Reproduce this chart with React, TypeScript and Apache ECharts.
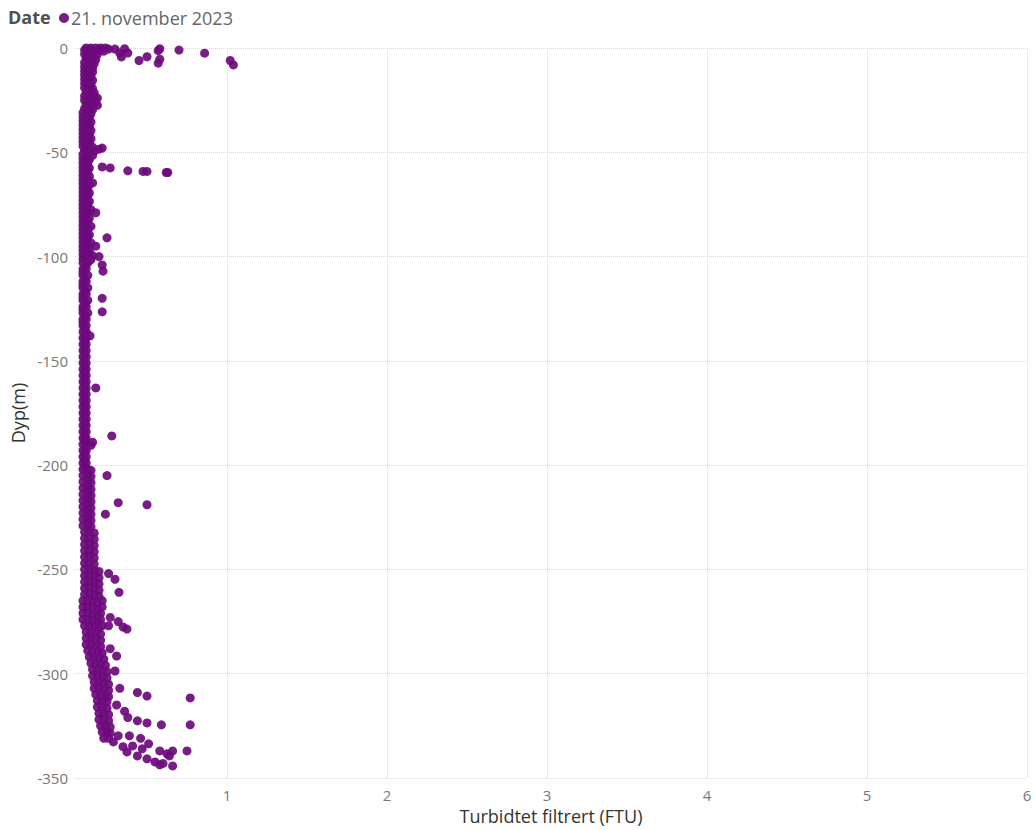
import React, { useEffect, useRef } from "react";
import * as echarts from "echarts";

const seriesName = "21. november 2023";
const xTicks = [1, 2, 3, 4, 5, 6];

// [turbidity FTU, depth m]
const surfaceCore: [number, number][] = [
  [0.12, 0], [0.15, 0], [0.18, 0], [0.21, 0], [0.24, 0], [0.26, -0.5],
  [0.11, -1], [0.14, -1], [0.17, -1.5], [0.2, -1], [0.23, -1.5],
  [0.11, -3], [0.13, -3], [0.16, -3.5], [0.19, -3],
  [0.12, -5], [0.15, -5], [0.18, -5.5],
  [0.11, -7], [0.14, -7], [0.17, -7.5],
  [0.11, -9], [0.13, -9], [0.16, -9.5],
  [0.11, -11], [0.14, -11], [0.16, -11.5],
  [0.11, -13], [0.13, -13], [0.15, -13.5],
  [0.11, -15], [0.14, -15], [0.16, -15.5],
  [0.11, -17], [0.13, -17], [0.15, -17.5],
  [0.11, -19], [0.14, -19], [0.16, -19.5],
  [0.12, -21], [0.15, -21], [0.17, -21.5],
  [0.11, -23], [0.14, -23], [0.17, -23.5], [0.19, -24],
  [0.11, -25], [0.14, -25], [0.18, -26],
  [0.12, -27], [0.15, -27], [0.19, -27.5],
  [0.11, -29], [0.14, -29], [0.16, -29.5],
];

const upperCore: [number, number][] = [
  [0.1, -31], [0.13, -31], [0.15, -31.5],
  [0.1, -33], [0.12, -33], [0.14, -33.5],
  [0.1, -35], [0.13, -35], [0.15, -35.5],
  [0.1, -37], [0.12, -37], [0.14, -37.5],
  [0.1, -39], [0.13, -39], [0.15, -39.5],
  [0.1, -41], [0.12, -41], [0.14, -41.5],
  [0.1, -43], [0.13, -43], [0.15, -43.5],
  [0.1, -45], [0.12, -45], [0.14, -45.5],
  [0.1, -47], [0.13, -47], [0.16, -47.5],
  [0.11, -49], [0.14, -49], [0.17, -49.5], [0.2, -48.5],
  [0.1, -51], [0.13, -51], [0.16, -51.5],
  [0.1, -53], [0.12, -53], [0.14, -53.5],
  [0.1, -55], [0.12, -55.5], [0.13, -55],
  [0.1, -57], [0.12, -57], [0.14, -57.5],
  [0.1, -59], [0.12, -59.5], [0.13, -59],
  [0.1, -61], [0.12, -61], [0.14, -61.5],
  [0.1, -63], [0.12, -63.5], [0.13, -63],
  [0.1, -65], [0.12, -65], [0.14, -65.5],
  [0.1, -67], [0.12, -67.5], [0.13, -67],
  [0.1, -69], [0.12, -69], [0.14, -69.5],
  [0.1, -71], [0.12, -71.5], [0.13, -71],
  [0.1, -73], [0.12, -73], [0.14, -73.5],
  [0.1, -75], [0.12, -75.5], [0.13, -75],
  [0.1, -77], [0.12, -77], [0.15, -77.5],
  [0.1, -79], [0.12, -79.5], [0.13, -79],
  [0.1, -81], [0.12, -81], [0.14, -81.5],
  [0.1, -83], [0.12, -83.5], [0.13, -83],
  [0.1, -85], [0.12, -85], [0.15, -85.5],
  [0.1, -87], [0.12, -87.5], [0.13, -87],
  [0.1, -89], [0.12, -89], [0.14, -89.5],
  [0.1, -91], [0.12, -91.5], [0.13, -91],
  [0.1, -93], [0.12, -93], [0.15, -93.5],
  [0.1, -95], [0.12, -95.5], [0.13, -95],
  [0.1, -97], [0.12, -97], [0.14, -97.5],
  [0.1, -99], [0.13, -99], [0.16, -99.5],
];

const midCore: [number, number][] = [
  [0.1, -101], [0.12, -101], [0.15, -101.5],
  [0.1, -103], [0.115, -104.5], [0.13, -103],
  [0.1, -106], [0.12, -106], [0.1, -107.5],
  [0.1, -109], [0.115, -110.5], [0.13, -109],
  [0.1, -112], [0.12, -112], [0.1, -113.5],
  [0.1, -115], [0.115, -116.5], [0.13, -115],
  [0.1, -118], [0.12, -118], [0.1, -119.5],
  [0.1, -121], [0.115, -122.5], [0.13, -121],
  [0.1, -124], [0.12, -124], [0.1, -125.5],
  [0.1, -127], [0.115, -128.5], [0.13, -127],
  [0.1, -130], [0.12, -130], [0.1, -131.5],
  [0.1, -133], [0.12, -133], [0.11, -134.5],
  [0.1, -136], [0.12, -136], [0.11, -137.5],
  [0.1, -139], [0.12, -139], [0.11, -140.5],
  [0.1, -142], [0.12, -142], [0.11, -143.5],
  [0.1, -145], [0.12, -145], [0.11, -146.5],
  [0.1, -148], [0.12, -148], [0.11, -149.5],
  [0.1, -151], [0.12, -151], [0.11, -152.5],
  [0.1, -154], [0.12, -154], [0.11, -155.5],
  [0.1, -157], [0.12, -157], [0.11, -158.5],
  [0.1, -160], [0.12, -160], [0.11, -161.5],
  [0.1, -163], [0.12, -163], [0.11, -164.5],
  [0.1, -166], [0.12, -166], [0.11, -167.5],
  [0.1, -169], [0.12, -169], [0.11, -170.5],
  [0.1, -172], [0.12, -172], [0.11, -173.5],
  [0.1, -175], [0.12, -175], [0.11, -176.5],
  [0.1, -178], [0.12, -178], [0.11, -179.5],
  [0.1, -181], [0.12, -181], [0.11, -182.5],
  [0.1, -184], [0.12, -184], [0.11, -185.5],
  [0.1, -187], [0.12, -187], [0.11, -188.5],
  [0.1, -190], [0.12, -190], [0.15, -190.5],
  [0.1, -193], [0.12, -193], [0.11, -194.5],
  [0.1, -196], [0.12, -196], [0.11, -197.5],
  [0.1, -199], [0.12, -199], [0.11, -200.5],
];

const lowerCore: [number, number][] = [
  [0.1, -202], [0.13, -202], [0.15, -202.5],
  [0.1, -205], [0.13, -205], [0.15, -205.5],
  [0.1, -208], [0.13, -208], [0.15, -208.5],
  [0.1, -211], [0.13, -211], [0.15, -211.5],
  [0.1, -214], [0.13, -214], [0.15, -214.5],
  [0.1, -217], [0.13, -217], [0.15, -217.5],
  [0.1, -220], [0.13, -220], [0.15, -220.5],
  [0.1, -223], [0.13, -223], [0.15, -223.5],
  [0.1, -226], [0.13, -226], [0.15, -226.5],
  [0.1, -229], [0.13, -229], [0.15, -229.5],
  [0.11, -232], [0.14, -232], [0.17, -232.5],
  [0.11, -235], [0.14, -235], [0.17, -235.5],
  [0.11, -238], [0.14, -238], [0.17, -238.5],
  [0.11, -241], [0.14, -241], [0.17, -241.5],
  [0.11, -244], [0.14, -244], [0.17, -244.5],
  [0.11, -247], [0.14, -247], [0.17, -247.5],
  [0.11, -250], [0.14, -250], [0.17, -250.5], [0.2, -251],
  [0.11, -253], [0.14, -253], [0.17, -253.5], [0.2, -254],
  [0.11, -256], [0.14, -256], [0.17, -256.5], [0.2, -257],
  [0.11, -259], [0.14, -259], [0.17, -259.5], [0.2, -260],
  [0.11, -262], [0.14, -262], [0.17, -262.5], [0.2, -263],
];

const bottomCore: [number, number][] = [
  [0.1, -265], [0.13, -265], [0.16, -265.5], [0.19, -266], [0.22, -265],
  [0.1, -268], [0.13, -268], [0.16, -268.5], [0.19, -269], [0.22, -268],
  [0.1, -271], [0.13, -271], [0.16, -271.5], [0.19, -272], [0.21, -271],
  [0.1, -274], [0.13, -274], [0.16, -274.5], [0.19, -275], [0.21, -274],
  [0.11, -277], [0.14, -277], [0.17, -277.5], [0.2, -278], [0.22, -277],
  [0.12, -280], [0.15, -280], [0.18, -280.5], [0.21, -281],
  [0.12, -283], [0.15, -283], [0.18, -283.5], [0.21, -284],
  [0.12, -286], [0.15, -286], [0.18, -286.5], [0.21, -287],
  [0.13, -289], [0.16, -289], [0.19, -289.5], [0.22, -290],
  [0.14, -292], [0.17, -292], [0.2, -292.5], [0.23, -293],
  [0.15, -295], [0.18, -295], [0.21, -295.5], [0.24, -296],
  [0.16, -298], [0.19, -298], [0.22, -298.5], [0.25, -299],
  [0.16, -301], [0.19, -301], [0.22, -301.5], [0.25, -302],
  [0.17, -304], [0.2, -304], [0.23, -304.5], [0.26, -305],
  [0.17, -307], [0.2, -307], [0.23, -307.5], [0.26, -308],
  [0.18, -310], [0.21, -310], [0.24, -310.5], [0.26, -311],
  [0.19, -313], [0.22, -313], [0.25, -313.5],
  [0.19, -316], [0.22, -316], [0.25, -316.5],
  [0.2, -319], [0.23, -319], [0.26, -319.5],
  [0.2, -322], [0.23, -322], [0.26, -322.5],
  [0.21, -325], [0.24, -325], [0.27, -325.5],
  [0.22, -328], [0.25, -328], [0.27, -328.5],
  [0.23, -331], [0.26, -331],
];

const outliers: [number, number][] = [
  [0.33, -2.4], [0.38, -2.4], [0.34, -4.3], [0.3, -0.5], [0.36, -0.3],
  [0.45, -6], [0.5, -4.2], [0.57, -1.3], [0.58, -5.4], [0.57, -7.3],
  [0.7, -1], [0.86, -2.5], [1.02, -6], [1.04, -8.1], [0.58, -0.3],
  [0.22, -48], [0.22, -57], [0.27, -57.5], [0.38, -58.9], [0.475, -59.2],
  [0.5, -59.2], [0.62, -59.7], [0.63, -59.7], [0.16, -64.7], [0.18, -79],
  [0.25, -91], [0.18, -95], [0.2, -100], [0.22, -104], [0.225, -107],
  [0.22, -120], [0.22, -126.5], [0.144, -138], [0.18, -163], [0.28, -186],
  [0.16, -189], [0.25, -205], [0.32, -218], [0.5, -219], [0.24, -223.5],
  [0.3, -254.7], [0.26, -252], [0.325, -261],
  [0.27, -273], [0.32, -275], [0.35, -277.6], [0.375, -278.6], [0.26, -277],
  [0.27, -288], [0.31, -291.5], [0.3, -298.7], [0.33, -307],
  [0.44, -309], [0.5, -310.7], [0.77, -311.6],
  [0.31, -315], [0.36, -318], [0.38, -321],
  [0.44, -322.6], [0.5, -323.6], [0.59, -324.5], [0.77, -324.5],
  [0.32, -329.8], [0.39, -329.8], [0.46, -331], [0.51, -333.6],
  [0.41, -334.6], [0.47, -336], [0.58, -337], [0.66, -337], [0.75, -337],
  [0.375, -337.5], [0.44, -339.4], [0.5, -340.8], [0.55, -342.3],
  [0.6, -343], [0.66, -344.2], [0.625, -338.4], [0.64, -339.4],
  [0.35, -335], [0.29, -332.7], [0.58, -343.7],
];

const allPoints = [
  ...surfaceCore,
  ...upperCore,
  ...midCore,
  ...lowerCore,
  ...bottomCore,
  ...outliers,
];

const FONT = "'Segoe UI', 'Open Sans', 'Noto Sans', sans-serif";

export default function App() {
  const ref = useRef<HTMLDivElement>(null);
  useEffect(() => {
    if (!ref.current) return;
    const chart = echarts.init(ref.current, null, { renderer: "svg" });
    chart.setOption({
      animation: false,
      backgroundColor: "#ffffff",
      textStyle: { fontFamily: FONT },
      grid: { left: 75, right: 9, top: 48, bottom: 51, containLabel: false },
      graphic: [
        {
          type: "text",
          left: 8,
          top: 8,
          style: {
            text: "Date",
            fontFamily: FONT,
            fontSize: 18,
            fontWeight: "bold",
            fill: "#505050",
          },
        },
      ],
      legend: {
        left: 54,
        top: 4,
        icon: "circle",
        itemWidth: 10,
        itemHeight: 10,
        itemGap: 4,
        textStyle: { fontFamily: FONT, fontSize: 18, color: "#666666", padding: [0, 0, 0, -3] },
        data: [seriesName],
      },
      xAxis: {
        type: "value",
        min: 0.05,
        max: 6,
        name: "Turbidtet filtrert (FTU)",
        nameLocation: "middle",
        nameGap: 29,
        nameTextStyle: { fontFamily: FONT, fontSize: 18, color: "#333333" },
        axisLine: { show: false },
        axisTick: { show: false, customValues: xTicks },
        axisLabel: {
          customValues: xTicks,
          color: "#777777",
          fontSize: 15,
          margin: 9,
          fontFamily: FONT,
        },
        splitLine: {
          show: true,
          customValues: xTicks,
          lineStyle: { type: "dotted", color: "#dadada", width: 1 },
        },
      },
      yAxis: {
        type: "value",
        min: -350,
        max: 0,
        interval: 50,
        name: "Dyp(m)",
        nameLocation: "middle",
        nameGap: 47,
        nameTextStyle: { fontFamily: FONT, fontSize: 18, color: "#333333" },
        axisLine: { show: false },
        axisTick: { show: false },
        axisLabel: { color: "#777777", fontSize: 15, margin: 7, fontFamily: FONT },
        splitLine: {
          show: true,
          lineStyle: { type: "dotted", color: "#dadada", width: 1 },
        },
      },
      series: [
        {
          name: seriesName,
          type: "scatter",
          symbol: "circle",
          symbolSize: 9,
          data: allPoints,
          itemStyle: { color: "#6C0A7C", opacity: 0.92 },
        },
      ],
    });
    return () => chart.dispose();
  }, []);
  return (
    <div
      ref={ref}
      style={{ position: "fixed", left: 0, top: 0, width: 1036, height: 830 }}
    />
  );
}
